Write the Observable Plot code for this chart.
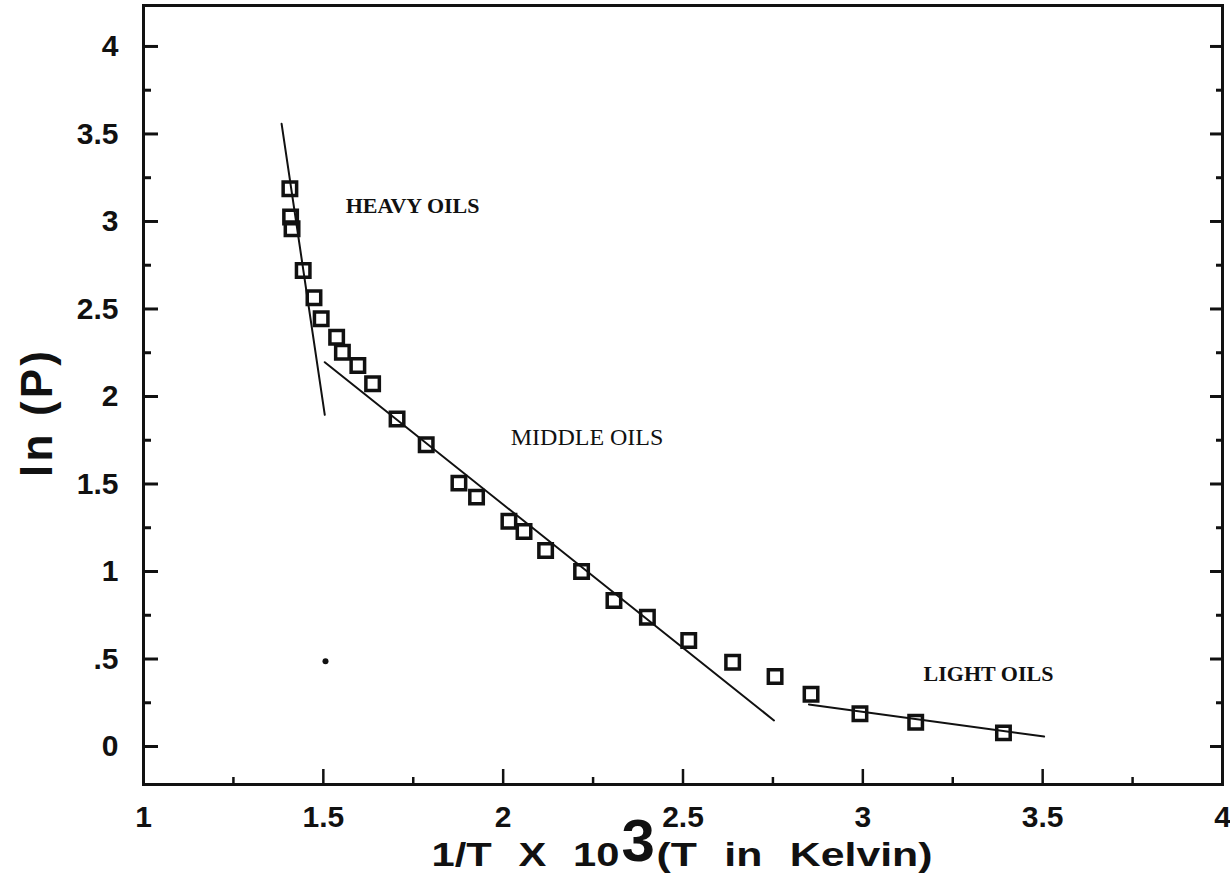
<!DOCTYPE html>
<html>
<head>
<meta charset="utf-8">
<script src="https://cdn.jsdelivr.net/npm/d3@7"></script>
<script src="https://cdn.jsdelivr.net/npm/@observablehq/plot@0.6"></script>
<style>
  html, body { margin: 0; padding: 0; background: #fff; }
  #chart { width: 1230px; height: 890px; }
</style>
</head>
<body>
<div id="chart"></div>
<script>
// Measured points: inverse temperature (1/T x 10^3, T in K) against ln(P)
const invT = [1.407, 1.409, 1.413, 1.444, 1.474, 1.494, 1.537, 1.553, 1.596, 1.637,
              1.705, 1.786, 1.877, 1.926, 2.016, 2.058, 2.118, 2.218, 2.308, 2.401,
              2.516, 2.638, 2.756, 2.856, 2.992, 3.147, 3.391];
const lnP  = [3.187, 3.025, 2.958, 2.720, 2.564, 2.444, 2.339, 2.253, 2.177, 2.073,
              1.871, 1.724, 1.505, 1.425, 1.287, 1.229, 1.120, 1.000, 0.834, 0.739,
              0.606, 0.482, 0.400, 0.299, 0.187, 0.139, 0.078];

// Straight-line fits for the three oil fractions (end points)
const heavyX  = [1.384, 1.504];
const heavyY  = [3.558, 1.895];
const middleX = [1.504, 2.753];
const middleY = [2.196, 0.149];
const lightX  = [2.850, 3.504];
const lightY  = [0.240, 0.057];

// Fraction labels and where they sit (data units)
const oilNames  = ["HEAVY OILS", "MIDDLE OILS", "LIGHT OILS"];
const oilLabelX = [1.562, 2.021, 3.169];
const oilLabelY = [3.091, 1.766, 0.417];

// Stray specks on the sheet
const speckX = [1.506];
const speckY = [0.487];

// Axis ticks
const xMajor = [1, 1.5, 2, 2.5, 3, 3.5, 4];
const xMajorLabels = ["1", "1.5", "2", "2.5", "3", "3.5", "4"];
const xMinor = [1.25, 1.75, 2.25, 2.75, 3.25, 3.75];
const yMajor = [0, 0.5, 1, 1.5, 2, 2.5, 3, 3.5, 4];
const yMajorLabels = ["0", ".5", "1", "1.5", "2", "2.5", "3", "3.5", "4"];
const yMinor = [0.25, 0.75, 1.25, 1.75, 2.25, 2.75, 3.25, 3.75];

const points = invT.map((x, i) => ({x, y: lnP[i]}));
const toXY = (xs, ys) => xs.map((x, i) => ({x, y: ys[i]}));
const labels = oilNames.map((t, i) => ({t, x: oilLabelX[i], y: oilLabelY[i]}));
const specks = toXY(speckX, speckY);

const xFmt = d => xMajorLabels[xMajor.indexOf(d)];
const yFmt = d => yMajorLabels[yMajor.indexOf(d)];

const W = 1230, H = 890;
const mL = 143, mR = 8, mT = 5, mB = 106;
const ink = "#111";
const sans = "'Liberation Sans', Arial, Helvetica, sans-serif";
const serif = "'Liberation Serif', 'Times New Roman', serif";

const chart = Plot.plot({
  width: W,
  height: H,
  marginLeft: mL,
  marginRight: mR,
  marginTop: mT,
  marginBottom: mB,
  x: {domain: [1, 4]},
  y: {domain: [-0.217, 4.234]},
  style: {background: "#fff", color: ink, fontFamily: sans},
  marks: [
    // inward ticks, left side
    Plot.axisY(yMajor, {anchor: "left", tickSize: -15, tickPadding: 40, strokeWidth: 3,
      tickFormat: yFmt, fontSize: 30, fontWeight: "bold", label: null}),
    Plot.axisY(yMinor, {anchor: "left", tickSize: -8, strokeWidth: 3,
      tickFormat: () => "", label: null}),
    // inward ticks, right side
    Plot.axisY(yMajor, {anchor: "right", tickSize: -13, strokeWidth: 3,
      tickFormat: () => "", label: null}),
    Plot.axisY(yMinor, {anchor: "right", tickSize: -7, strokeWidth: 3,
      tickFormat: () => "", label: null}),
    // inward ticks, bottom
    Plot.axisX(xMajor, {anchor: "bottom", tickSize: -15, tickPadding: 36, strokeWidth: 2.5,
      tickFormat: xFmt, fontSize: 30, fontWeight: "bold", label: null}),
    Plot.axisX(xMinor, {anchor: "bottom", tickSize: -7, strokeWidth: 2.5,
      tickFormat: () => "", label: null}),
    Plot.frame({stroke: ink, strokeWidth: 3}),
    // fitted lines
    Plot.line(toXY(heavyX, heavyY), {x: "x", y: "y", stroke: ink, strokeWidth: 2}),
    Plot.line(toXY(middleX, middleY), {x: "x", y: "y", stroke: ink, strokeWidth: 2}),
    Plot.line(toXY(lightX, lightY), {x: "x", y: "y", stroke: ink, strokeWidth: 2}),
    // measured points
    Plot.dot(points, {x: "x", y: "y", symbol: "square", r: 7.6, stroke: ink,
      strokeWidth: 3.5, fill: "none"}),
    Plot.dot(specks, {x: "x", y: "y", r: 3, fill: ink, stroke: "none"}),
    // fraction labels
    Plot.text(labels.filter(d => d.t !== "MIDDLE OILS"), {x: "x", y: "y", text: "t",
      textAnchor: "start", fontFamily: serif, fontSize: 22, fontWeight: "bold", fill: ink}),
    Plot.text(labels.filter(d => d.t === "MIDDLE OILS"), {x: "x", y: "y", text: "t",
      textAnchor: "start", fontFamily: serif, fontSize: 24, fill: ink})
  ]
});

document.getElementById("chart").appendChild(chart);

// Axis titles (wide plotter-style lettering, centred under the frame)
const svg = d3.select(chart);
const cx = mL + (W - mL - mR) / 2;

const xTitle = svg.append("g")
  .attr("fill", ink)
  .attr("font-family", sans)
  .attr("font-weight", "bold")
  .attr("text-anchor", "start");
xTitle.append("text")
  .attr("x", cx - 251).attr("y", 866)
  .attr("font-size", 33)
  .attr("word-spacing", 12)
  .attr("textLength", 188).attr("lengthAdjust", "spacingAndGlyphs")
  .text("1/T X 10");
xTitle.append("text")
  .attr("x", cx - 61).attr("y", 861)
  .attr("font-size", 60)
  .text("3");
xTitle.append("text")
  .attr("x", cx - 26).attr("y", 866)
  .attr("font-size", 33)
  .attr("word-spacing", 12)
  .attr("textLength", 276).attr("lengthAdjust", "spacingAndGlyphs")
  .text("(T in Kelvin)");

svg.append("text")
  .attr("transform", `translate(52, ${414}) rotate(-90)`)
  .attr("text-anchor", "middle")
  .attr("fill", ink)
  .attr("font-family", sans)
  .attr("font-weight", "bold")
  .attr("font-size", 44)
  .attr("textLength", 126).attr("lengthAdjust", "spacing")
  .text("ln (P)");
</script>
</body>
</html>
